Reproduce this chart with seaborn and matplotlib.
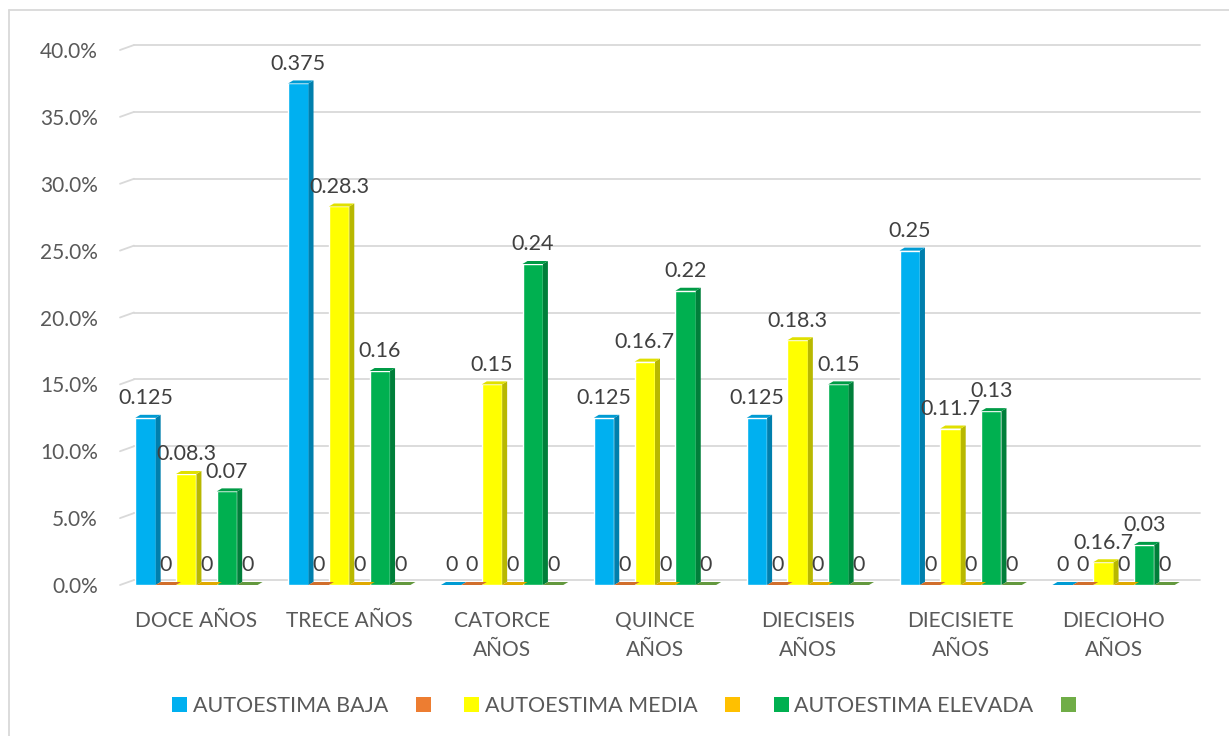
import matplotlib
matplotlib.use("Agg")
import matplotlib.pyplot as plt
from matplotlib.patches import Polygon, Patch
from matplotlib.lines import Line2D
from matplotlib.ticker import PercentFormatter
import matplotlib.colors as mcolors
import numpy as np
import pandas as pd
import seaborn as sns

# categories and series
edades = ["DOCE AÑOS", "TRECE AÑOS", "CATORCE\nAÑOS", "QUINCE\nAÑOS",
          "DIECISEIS\nAÑOS", "DIECISIETE\nAÑOS", "DIECIOHO\nAÑOS"]
series = ["AUTOESTIMA BAJA", "s2", "AUTOESTIMA MEDIA", "s4", "AUTOESTIMA ELEVADA", "s6"]

baja = [0.125, 0.375, 0, 0.125, 0.125, 0.25, 0]
serie2 = [0, 0, 0, 0, 0, 0, 0]
media = [0.083, 0.283, 0.15, 0.167, 0.183, 0.117, 0.017]
serie4 = [0, 0, 0, 0, 0, 0, 0]
elevada = [0.07, 0.16, 0.24, 0.22, 0.15, 0.13, 0.03]
serie6 = [0, 0, 0, 0, 0, 0, 0]

# data labels as shown in the original chart
lab_baja = ["0.125", "0.375", "0", "0.125", "0.125", "0.25", "0"]
lab_zero = ["0"] * 7
lab_media = ["0.08.3", "0.28.3", "0.15", "0.16.7", "0.18.3", "0.11.7", "0.16.7"]
lab_elevada = ["0.07", "0.16", "0.24", "0.22", "0.15", "0.13", "0.03"]

colores = ["#00B0F0", "#ED7D31", "#FFFF00", "#FFC000", "#00B050", "#70AD47"]

valores = [baja, serie2, media, serie4, elevada, serie6]
etiquetas = [lab_baja, lab_zero, lab_media, lab_zero, lab_elevada, lab_zero]

rows = []
for s, vals in zip(series, valores):
    for e, v in zip(edades, vals):
        rows.append({"edad": e, "serie": s, "valor": v})
df = pd.DataFrame(rows)

sns.set_style("white")
plt.rcParams["font.family"] = ["Lato", "DejaVu Sans"]

W, H = 1229, 736
fig = plt.figure(figsize=(W / 100, H / 100), dpi=100)
ax_left, ax_right = 120, 1190
ax_bot, ax_top = 585, 50
ax = fig.add_axes([ax_left / W, 1 - ax_bot / H, (ax_right - ax_left) / W, (ax_bot - ax_top) / H])

sns.barplot(data=df, x="edad", y="valor", hue="serie", hue_order=series,
            palette=colores, saturation=1, width=0.8, gap=0, legend=False,
            errorbar=None, ax=ax, zorder=3)

ax.set_xlim(-0.5, 6.5)
ax.set_ylim(0, 0.40)

# pixel -> data conversion for 3D look
px_x = 7.0 / (ax_right - ax_left)
px_y = 0.40 / (ax_bot - ax_top)
dx, dy = 5 * px_x, 3 * px_y

def shade(c, f):
    r, g, b = mcolors.to_rgb(c)
    return (r * f, g * f, b * f)

for cont, col in zip(ax.containers, colores):
    for bar in cont:
        x0 = bar.get_x()
        x1 = x0 + bar.get_width()
        h = bar.get_height()
        side = Polygon([(x1, 0), (x1 + dx, dy), (x1 + dx, h + dy), (x1, h)],
                       closed=True, facecolor=shade(col, 0.72), edgecolor="none", zorder=3)
        top = Polygon([(x0, h), (x0 + dx, h + dy), (x1 + dx, h + dy), (x1, h)],
                      closed=True, facecolor=shade(col, 0.88), edgecolor="none", zorder=3)
        ax.add_patch(side)
        ax.add_patch(top)

for cont, labs in zip(ax.containers, etiquetas):
    ax.bar_label(cont, labels=labs, padding=7, fontsize=15.5, color="#404040", zorder=5)

# back-wall gridlines with small side-wall diagonals
gdx, gdy = 14 * px_x, 5 * px_y
for yv in np.arange(0, 0.401, 0.05):
    ax.plot([-0.5, -0.5 + gdx], [yv, yv + gdy], color="#D9D9D9", lw=1.3, zorder=1, clip_on=False)
    ax.plot([-0.5 + gdx, 6.5 + 10 * px_x], [yv + gdy, yv + gdy], color="#D9D9D9", lw=1.3,
            zorder=1, clip_on=False)

ax.yaxis.set_major_formatter(PercentFormatter(1.0, decimals=1))
ax.set_yticks(np.arange(0, 0.401, 0.05))
ax.tick_params(axis="y", length=0, pad=16, labelsize=15, labelcolor="#595959")
ax.tick_params(axis="x", length=0, pad=19, labelsize=15, labelcolor="#595959")
for t in ax.get_xticklabels():
    t.set_linespacing(1.55)
ax.set_xlabel("")
ax.set_ylabel("")
for sp in ax.spines.values():
    sp.set_visible(False)

# legend
handles = [Patch(facecolor=c, edgecolor="none") for c in colores]
leg_labels = ["AUTOESTIMA BAJA", "", "AUTOESTIMA MEDIA", "", "AUTOESTIMA ELEVADA", ""]
fig.legend(handles, leg_labels, loc="center", bbox_to_anchor=(627 / W, 1 - 706 / H),
           ncol=6, frameon=False, fontsize=15.5, handlelength=0.7, handleheight=0.7,
           handletextpad=0.25, columnspacing=1.3, labelcolor="#595959")

# chart frame
fig.add_artist(Line2D([9 / W, 9 / W], [0, 1 - 10 / H], color="#D9D9D9", lw=1.3))
fig.add_artist(Line2D([9 / W, 1], [1 - 10 / H, 1 - 10 / H], color="#D9D9D9", lw=1.3))

fig.savefig("out.png", dpi=100, facecolor="white")
